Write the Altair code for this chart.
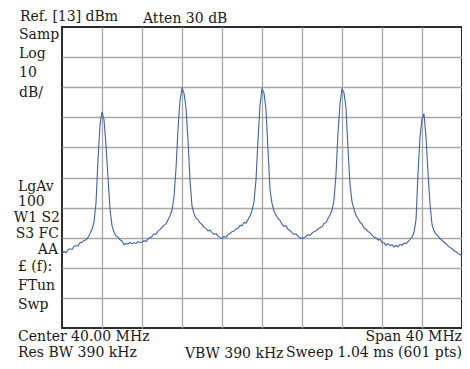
import altair as alt
import pandas as pd

# Sweep: 20 MHz .. 60 MHz (center 40 MHz, span 40 MHz), read at 0.2 MHz steps
freq_start = 20.0
freq_step = 0.2
level_dbm = [
    -62.3, -61.6, -62.0, -61.0, -60.7, -60.9, -59.9, -59.6, -59.8, -58.7,
    -58.5, -58.0, -57.7, -56.9, -55.6, -54.2, -51.8, -45.5, -31.0, -19.5,
    -15.2, -17.8, -26.5, -37.0, -47.5, -53.0, -55.2, -56.4, -56.8, -57.7,
    -58.1, -59.3, -58.9, -59.1, -58.6, -59.0, -58.7, -58.9, -58.3, -58.6,
    -58.4, -58.0, -58.3, -57.4, -57.0, -56.6, -55.7, -55.9, -54.8, -54.3,
    -53.6, -52.8, -52.4, -51.0, -49.8, -47.8, -43.5, -34.0, -21.0, -11.5,
    -7.4, -9.0, -14.0, -24.5, -38.0, -46.5, -49.0, -50.5, -51.0, -52.1,
    -52.6, -53.6, -53.9, -54.7, -54.5, -55.3, -55.9, -55.6, -56.5, -56.9,
    -57.3, -56.6, -56.9, -55.9, -55.6, -55.0, -54.8, -54.1, -53.9, -52.9,
    -53.0, -51.9, -52.2, -51.0, -49.8, -48.0, -45.0, -37.8, -24.5, -13.0,
    -7.6, -9.0, -14.5, -27.9, -41.0, -45.6, -48.2, -49.5, -50.6, -51.2,
    -52.5, -53.2, -53.0, -54.2, -54.6, -55.4, -55.9, -55.7, -56.5, -57.0,
    -57.3, -56.9, -56.6, -56.0, -56.2, -55.5, -55.0, -54.7, -54.2, -53.6,
    -53.4, -52.3, -52.0, -50.6, -49.5, -47.8, -44.5, -36.0, -22.0, -12.5,
    -7.6, -8.8, -14.0, -27.5, -39.5, -45.0, -47.6, -49.6, -50.6, -51.8,
    -52.5, -53.8, -54.2, -54.9, -55.4, -56.1, -56.8, -57.0, -57.8, -57.6,
    -58.6, -58.7, -59.5, -59.0, -59.7, -59.3, -60.1, -59.6, -60.0, -59.2,
    -59.5, -58.8, -59.0, -58.3, -57.6, -56.8, -55.2, -51.1, -35.8, -23.6,
    -17.5, -15.8, -23.6, -35.4, -45.8, -52.6, -54.8, -55.8, -56.4, -57.3,
    -57.8, -58.5, -59.0, -59.7, -60.3, -60.6, -61.4, -61.6, -62.3, -62.6,
    -63.1,
]
freq_mhz = [round(freq_start + freq_step * i, 1) for i in range(len(level_dbm))]

x_domain = [20, 60]
y_domain = [-87, 13]
x_grid = [24, 28, 32, 36, 40, 44, 48, 52, 56]
y_grid = [3, -7, -17, -27, -37, -47, -57, -67, -77]

# annotation texts (left-aligned)
left_texts = ["Ref. [13] dBm", "Atten 30 dB", "Samp", "Log", "10", "dB/",
              "LgAv", "100", "£ (f):", "FTun", "Swp",
              "Center 40.00 MHz", "Res BW 390 kHz", "VBW 390 kHz"]
left_px = [-42, 81, -43, -43, -43, -43, -44, -44, -44, -44, -44, -44, -44, 123]
left_py = [-6.5, -4.5, 12, 31, 50, 70, 164, 179, 244, 263, 282, 313.5, 329.5, 330.5]
# annotation texts (right-aligned)
right_texts = ["W1 S2", "S3 FC", "AA", "Span 40 MHz", "Sweep 1.04 ms (601 pts)"]
right_px = [-2, -3, -4, 400, 400]
right_py = [195, 211, 227, 313.5, 329.5]

trace = pd.DataFrame({"f": freq_mhz, "dbm": level_dbm})
lt = pd.DataFrame({"t": left_texts, "px": left_px, "py": left_py})
rt = pd.DataFrame({"t": right_texts, "px": right_px, "py": right_py})

FONT = "DejaVu Serif"

line = alt.Chart(trace).mark_line(color="#3b63b6", strokeWidth=1.1, clip=True).encode(
    x=alt.X("f:Q", scale=alt.Scale(domain=x_domain, nice=False, zero=False),
            axis=alt.Axis(values=x_grid, grid=True, labels=False, ticks=False,
                          domain=False, title=None, gridColor="#a6a6a6", gridWidth=1.3)),
    y=alt.Y("dbm:Q", scale=alt.Scale(domain=y_domain, nice=False, zero=False),
            axis=alt.Axis(values=y_grid, grid=True, labels=False, ticks=False,
                          domain=False, title=None, gridColor="#a6a6a6", gridWidth=1.3)),
)

left_layer = alt.Chart(lt).mark_text(align="left", baseline="alphabetic", font=FONT,
                                     fontSize=14, color="#1a1a1a").encode(
    x=alt.X("px:Q", scale=None, axis=None),
    y=alt.Y("py:Q", scale=None, axis=None),
    text="t:N",
)
right_layer = alt.Chart(rt).mark_text(align="right", baseline="alphabetic", font=FONT,
                                      fontSize=14, color="#1a1a1a").encode(
    x=alt.X("px:Q", scale=None, axis=None),
    y=alt.Y("py:Q", scale=None, axis=None),
    text="t:N",
)

chart = alt.layer(line, left_layer, right_layer).resolve_scale(
    x="independent", y="independent"
).properties(
    width=400, height=301,
    padding={"left": 54, "top": 19, "right": 0, "bottom": 32},
    autosize=alt.AutoSizeParams(type="none"),
    background="white",
).configure_view(stroke="#2e2e2e", strokeWidth=2)

chart.save("out.html", embed_options={"renderer": "svg", "actions": False})
